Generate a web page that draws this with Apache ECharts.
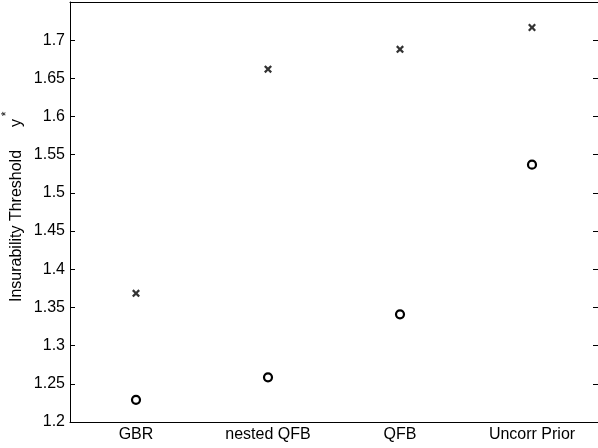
<!DOCTYPE html>
<html>
<head>
<meta charset="utf-8">
<script src="https://cdn.jsdelivr.net/npm/echarts@6/dist/echarts.min.js"></script>
<style>html,body{margin:0;padding:0;background:#fff;}#c{width:598px;height:448px;}</style>
</head>
<body>
<div id="c"></div>
<script>
var categories = ['GBR', 'nested QFB', 'QFB', 'Uncorr Prior'];
var crossValues = [1.3685, 1.662, 1.688, 1.7166];
var circleValues = [1.229, 1.2585, 1.341, 1.537];

var FONT = 'Liberation Sans, Arial, Helvetica, sans-serif';
var crossPath = 'path://M0,2L2,0L5,3L8,0L10,2L7,5L10,8L8,10L5,7L2,10L0,8L3,5Z';

var chart = echarts.init(document.getElementById('c'), null, {renderer: 'canvas'});
var axisLineStyle = {color: '#000', width: 1};
chart.setOption({
  animation: false,
  backgroundColor: '#fff',
  grid: {left: 70, right: -2, top: 2, bottom: 26, containLabel: false},
  xAxis: [{
    type: 'category', data: categories, position: 'bottom', boundaryGap: true,
    axisLine: {lineStyle: axisLineStyle},
    axisTick: {inside: true, length: 5, alignWithLabel: true, lineStyle: axisLineStyle},
    axisLabel: {color: '#000', fontFamily: FONT, fontSize: 16, margin: 5},
    splitLine: {show: false}
  }, {
    type: 'category', data: categories, position: 'top', boundaryGap: true,
    axisLine: {lineStyle: axisLineStyle},
    axisTick: {inside: true, length: 5, alignWithLabel: true, lineStyle: axisLineStyle},
    axisLabel: {show: false}, splitLine: {show: false}
  }],
  yAxis: [{
    type: 'value', min: 1.2, max: 1.75, interval: 0.05, position: 'left',
    axisLine: {show: true, lineStyle: axisLineStyle},
    axisTick: {show: true, inside: true, length: 5, lineStyle: axisLineStyle},
    axisLabel: {color: '#000', fontFamily: FONT, fontSize: 16, margin: 5, showMaxLabel: false},
    splitLine: {show: false}
  }, {
    type: 'value', min: 1.2, max: 1.75, interval: 0.05, position: 'right',
    axisLine: {show: true, lineStyle: axisLineStyle},
    axisTick: {show: true, inside: true, length: 5, lineStyle: axisLineStyle},
    axisLabel: {show: false}, splitLine: {show: false}
  }],
  series: [{
    type: 'scatter', xAxisIndex: 0, yAxisIndex: 0,
    data: crossValues, symbol: crossPath, symbolSize: 8,
    itemStyle: {color: '#000'}
  }, {
    type: 'scatter', xAxisIndex: 0, yAxisIndex: 0,
    data: circleValues, symbol: 'circle', symbolSize: 8,
    itemStyle: {color: '#fff', borderColor: '#000', borderWidth: 2.2, opacity: 1}
  }],
  graphic: [{
    type: 'text', x: 17, y: 226, rotation: Math.PI / 2,
    style: {text: 'Insurability Threshold', fontFamily: FONT, fontSize: 16, fill: '#000', align: 'center', verticalAlign: 'middle'}
  }, {
    type: 'text', x: 17, y: 123, rotation: Math.PI / 2,
    style: {text: 'y', fontFamily: FONT, fontSize: 16, fill: '#000', align: 'center', verticalAlign: 'middle'}
  }, {
    type: 'text', x: 7, y: 114, rotation: Math.PI / 2,
    style: {text: '*', fontFamily: FONT, fontSize: 12, fill: '#000', align: 'center', verticalAlign: 'middle'}
  }]
});
</script>
</body>
</html>
